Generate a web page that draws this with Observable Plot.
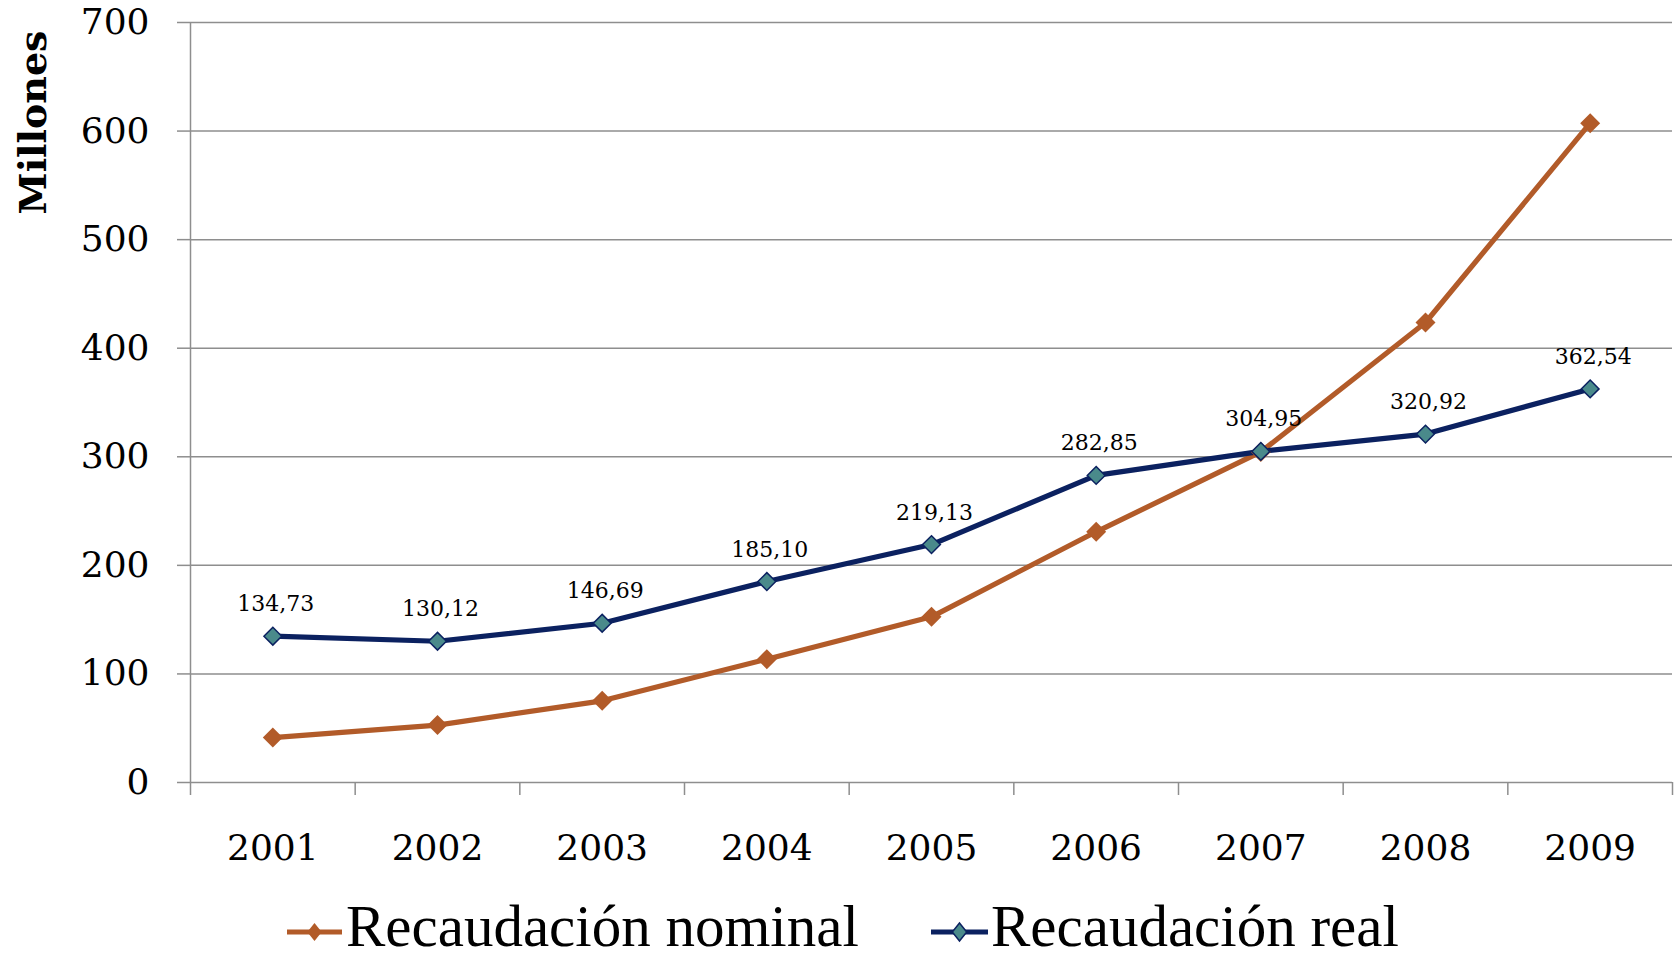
<!DOCTYPE html>
<html><head><meta charset="utf-8">
<script src="https://cdn.jsdelivr.net/npm/d3@7"></script>
<script src="https://cdn.jsdelivr.net/npm/@observablehq/plot@0.6"></script>
<style>
body{margin:0;background:#fff;}
#chart svg{display:block;}
#legend{position:relative;height:79px;width:1677px;font-family:"Liberation Serif",serif;font-size:59px;color:#000;}
#legend .sw{position:absolute;}
#legend .tx{position:absolute;line-height:50px;white-space:nowrap;}
</style></head><body><div id="chart"></div><div id="legend"></div>
<script>
const years = [2001, 2002, 2003, 2004, 2005, 2006, 2007, 2008, 2009];
const nominal = [41.4, 52.9, 75.2, 113.6, 152.6, 230.9, 304.5, 423.7, 607.3];
const real = [134.73, 130.12, 146.69, 185.10, 219.13, 282.85, 304.95, 320.92, 362.54];
const realLabels = ["134,73", "130,12", "146,69", "185,10", "219,13", "282,85", "304,95", "320,92", "362,54"];
const yTicks = [0, 100, 200, 300, 400, 500, 600, 700];
const seriesNames = ["Recaudación nominal", "Recaudación real"];
const yLabel = "Millones";

const cNom = "#B25B29", cReal = "#0B2160", cRealFill = "#4A8A8B", cGrid = "#8e8e8e";

const nomRows = years.map((y, i) => ({year: y, value: nominal[i]}));
const realRows = years.map((y, i) => ({year: y, value: real[i], label: realLabels[i]}));
const bounds = [years[0] - 0.5, ...years.map(y => y + 0.5)];

const chart = Plot.plot({
  width: 1677, height: 880,
  marginLeft: 190, marginRight: 5, marginTop: 22, marginBottom: 98,
  x: {type: "linear", domain: [bounds[0], bounds[bounds.length - 1]]},
  y: {domain: [0, 700]},
  style: {fontFamily: "'DejaVu Serif', serif", background: "white", color: "black"},
  marks: [
    Plot.gridY(yTicks, {stroke: cGrid, strokeOpacity: 1, strokeWidth: 1.5}),
    Plot.ruleX([bounds[0]], {stroke: cGrid, strokeWidth: 1.5}),
    Plot.axisY(yTicks, {tickSize: 13, tickPadding: 28, stroke: cGrid, strokeWidth: 1.5, fill: "black", fontSize: 36, label: null, tickFormat: d => String(d)}),
    Plot.axisX(bounds, {tickSize: 13, stroke: cGrid, strokeWidth: 1.5, tickFormat: () => "", label: null}),
    Plot.axisX(years, {tickSize: 0, tickPadding: 52, fill: "black", fontSize: 36, label: null, tickFormat: d => String(d)}),
    Plot.line(nomRows, {x: "year", y: "value", stroke: cNom, strokeWidth: 5.2}),
    Plot.line(realRows, {x: "year", y: "value", stroke: cReal, strokeWidth: 5.2}),
    Plot.dot(nomRows, {x: "year", y: "value", symbol: "diamond2", r: 9, fill: cNom, stroke: "none"}),
    Plot.dot(realRows, {x: "year", y: "value", symbol: "diamond2", r: 8, fill: cRealFill, stroke: cReal, strokeWidth: 1.5}),
    Plot.text(realRows, {x: "year", y: "value", text: "label", dx: 3, dy: -25, lineAnchor: "bottom", fontSize: 22, fill: "black"}),
    Plot.text([yLabel], {text: d => d, frameAnchor: "top-left", rotate: -90, textAnchor: "end", lineAnchor: "bottom", dx: -145, dy: 8, fontSize: 38, fontWeight: "bold", fill: "black"})
  ]
});
document.getElementById("chart").appendChild(chart);

// Legend
const legend = document.getElementById("legend");
const items = [
  {name: seriesNames[0], color: cNom, fill: cNom, stroke: "none", swLeft: 287, swW: 55, txLeft: 346},
  {name: seriesNames[1], color: cReal, fill: cRealFill, stroke: cReal, swLeft: 931, swW: 57, txLeft: 991}
];
for (const it of items) {
  const sw = document.createElementNS("http://www.w3.org/2000/svg", "svg");
  sw.setAttribute("class", "sw");
  sw.setAttribute("width", it.swW);
  sw.setAttribute("height", 24);
  sw.style.left = it.swLeft + "px";
  sw.style.top = "40px";
  const cx = it.swW / 2, cy = 12, h = 9;
  sw.innerHTML = `<line x1="0" x2="${it.swW}" y1="${cy}" y2="${cy}" stroke="${it.color}" stroke-width="5" stroke-linecap="round"/>` +
    `<path d="M${cx},${cy - h}L${cx + h * 0.8},${cy}L${cx},${cy + h}L${cx - h * 0.8},${cy}Z" fill="${it.fill}" stroke="${it.stroke}" stroke-width="1.5"/>`;
  legend.appendChild(sw);
  const tx = document.createElement("div");
  tx.className = "tx";
  tx.textContent = it.name;
  tx.style.left = it.txLeft + "px";
  tx.style.top = "21px";
  legend.appendChild(tx);
}
</script>
</body></html>
